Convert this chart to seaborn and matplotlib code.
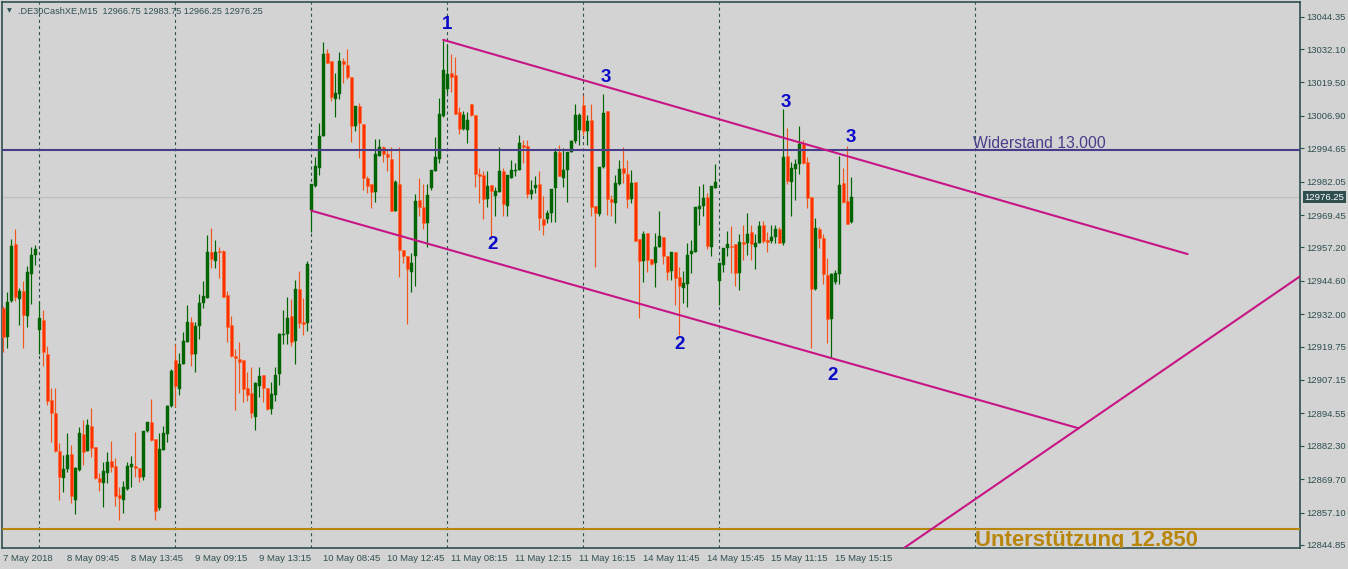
import numpy as np
import pandas as pd
import matplotlib
matplotlib.use("Agg")
import matplotlib.pyplot as plt
import matplotlib.transforms as mtransforms
import seaborn as sns

# ===========================================================
# DATA: .DE30CashXE M15 candles
# ===========================================================
opens = [
    12934.2, 12923.5, 12937.0, 12958.5, 12937.8, 12940.8, 12931.5, 12947.2, 12954.4, 12926.1,
    12929.8, 12917.0, 12899.6, 12894.8, 12880.4, 12870.3, 12873.6, 12879.2, 12861.8, 12873.2,
    12886.8, 12880.4, 12889.8, 12881.7, 12870.0, 12868.4, 12872.2, 12876.6, 12874.7, 12863.7,
    12861.8, 12865.9, 12874.4, 12874.8, 12874.1, 12870.7, 12887.7, 12891.1, 12884.9, 12858.9,
    12880.7, 12886.8, 12897.5, 12914.7, 12903.8, 12913.2, 12921.6, 12928.9, 12917.0, 12927.6,
    12936.1, 12938.0, 12955.4, 12952.2, 12955.9, 12955.9, 12939.3, 12927.9, 12916.2, 12915.0,
    12914.7, 12904.0, 12902.4, 12893.3, 12904.9, 12909.1, 12904.0, 12896.2, 12901.3, 12909.4,
    12924.2, 12924.5, 12931.3, 12922.0, 12941.5, 12929.2, 12928.8, 12971.2, 12980.6, 12987.1,
    12999.3, 13030.6, 13027.7, 13013.3, 13015.1, 13027.7, 13026.1, 13021.7, 13003.2, 13010.7,
    13003.7, 12983.3, 12981.2, 12978.3, 12991.9, 12995.3, 12992.5, 12990.5, 12970.8, 12981.2,
    12956.3, 12953.8, 12947.8, 12954.1, 12975.2, 12972.4, 12966.3, 12979.8, 12985.9, 12990.6,
    13007.0, 13017.1, 13023.0, 13022.4, 13008.5, 13001.8, 13001.6, 13011.4, 13007.3, 12985.0,
    12984.6, 12975.4, 12980.8, 12976.7, 12978.3, 12985.9, 12973.0, 12983.6, 12985.9, 12986.5,
    12995.9, 12995.6, 12977.3, 12979.6, 12981.2, 12968.0, 12968.0, 12970.1, 12979.8, 12993.4,
    12983.6, 12986.5, 12993.2, 12997.4, 13001.6, 13011.0, 13001.0, 13005.4, 12972.9, 12969.7,
    12987.4, 13008.8, 12975.5, 12973.9, 12981.1, 12987.1, 12985.0, 12975.5, 12982.1, 12960.3,
    12951.9, 12962.6, 12952.9, 12951.2, 12957.5, 12961.3, 12954.0, 12948.3, 12955.4, 12945.9,
    12942.0, 12943.3, 12954.6, 12955.3, 12971.6, 12972.9, 12976.2, 12957.5, 12979.8, 12944.6,
    12950.6, 12956.9, 12957.8, 12958.4, 12947.5, 12959.2, 12958.8, 12963.0, 12957.5, 12959.0,
    12965.5, 12960.1, 12959.7, 12961.3, 12964.2, 12958.8, 12991.8, 12982.1, 12986.7, 12988.7,
    12996.2, 12989.3, 12976.2, 12941.4, 12964.2, 12960.9, 12946.8, 12930.2, 12944.3, 12947.2,
    12981.5, 12974.8, 12966.75,
]
highs = [
    12935.0, 12940.5, 12960.4, 12964.2, 12941.8, 12944.6, 12950.2, 12957.3, 12958.2, 12936.5,
    12933.6, 12919.8, 12904.0, 12904.3, 12883.5, 12878.8, 12887.0, 12882.6, 12874.4, 12889.3,
    12892.1, 12892.4, 12896.5, 12881.7, 12871.9, 12876.1, 12879.8, 12884.1, 12877.6, 12866.9,
    12869.0, 12876.1, 12878.5, 12887.4, 12874.1, 12887.9, 12891.4, 12900.0, 12884.9, 12887.0,
    12889.9, 12897.7, 12911.3, 12920.6, 12917.2, 12925.4, 12935.5, 12931.1, 12929.2, 12939.7,
    12944.6, 12961.9, 12964.7, 12960.0, 12957.2, 12956.3, 12940.8, 12931.3, 12918.9, 12921.6,
    12914.7, 12910.3, 12912.2, 12906.3, 12912.2, 12909.1, 12904.0, 12906.3, 12912.2, 12924.8,
    12933.6, 12938.4, 12937.8, 12944.9, 12948.3, 12938.3, 12952.2, 12981.2, 12991.5, 13004.1,
    13034.7, 13032.2, 13027.7, 13023.0, 13030.9, 13028.9, 13032.2, 13021.7, 13010.7, 13011.7,
    13003.7, 12984.3, 12981.2, 12998.2, 12998.2, 12995.6, 12994.3, 12995.1, 12982.7, 12995.1,
    12956.3, 12953.8, 12955.0, 12977.3, 12983.6, 12981.1, 12981.1, 12986.5, 12999.1, 13013.6,
    13035.6, 13034.1, 13030.3, 13029.3, 13010.2, 13008.8, 13008.5, 13011.4, 13007.3, 12987.1,
    12985.9, 12985.9, 12980.8, 12980.2, 12995.3, 12987.1, 12984.4, 12990.3, 12989.0, 12999.7,
    12997.8, 12997.8, 12982.7, 12984.0, 12986.1, 12976.8, 12971.4, 12979.3, 12994.7, 12995.9,
    12994.7, 12993.2, 12997.8, 13011.4, 13007.9, 13014.6, 13007.3, 13011.4, 12972.9, 12987.4,
    13015.2, 13008.8, 12977.0, 12984.6, 12990.3, 12995.1, 12990.3, 12986.5, 12982.1, 12960.3,
    12963.5, 12962.6, 12952.9, 12962.6, 12971.0, 12961.3, 12954.0, 12955.4, 12955.4, 12950.0,
    12948.3, 12958.8, 12960.0, 12972.3, 12980.4, 12981.2, 12977.7, 12980.4, 12988.7, 12951.5,
    12956.9, 12963.6, 12965.3, 12958.4, 12962.3, 12965.7, 12970.4, 12965.7, 12962.3, 12967.3,
    12967.3, 12963.2, 12965.7, 12965.7, 12965.1, 13009.4, 13002.2, 12989.6, 12990.5, 13002.9,
    12997.6, 12991.5, 12976.2, 12968.2, 12965.1, 12962.3, 12953.1, 12947.5, 12948.7, 12991.8,
    12987.1, 12995.6, 12983.75,
]
lows = [
    12917.9, 12919.4, 12936.5, 12936.8, 12927.9, 12919.4, 12927.3, 12935.9, 12950.4, 12916.9,
    12912.6, 12897.7, 12883.9, 12880.1, 12861.8, 12865.0, 12872.3, 12860.8, 12856.6, 12872.9,
    12875.1, 12880.4, 12878.2, 12869.8, 12865.4, 12859.1, 12868.1, 12872.5, 12859.7, 12854.3,
    12856.8, 12865.6, 12866.9, 12870.7, 12868.8, 12869.4, 12887.4, 12884.1, 12854.3, 12858.1,
    12880.7, 12883.9, 12897.1, 12897.1, 12901.5, 12913.2, 12921.6, 12912.6, 12910.3, 12922.6,
    12934.2, 12938.0, 12949.6, 12949.3, 12945.8, 12938.4, 12921.6, 12916.0, 12895.8, 12902.1,
    12899.0, 12899.4, 12892.9, 12888.3, 12900.9, 12899.0, 12895.8, 12894.3, 12899.2, 12905.3,
    12920.8, 12920.8, 12919.8, 12913.2, 12926.7, 12924.2, 12925.8, 12963.0, 12980.0, 12984.6,
    12999.3, 13026.8, 13012.6, 13006.6, 13013.3, 13019.2, 13020.9, 12996.9, 13001.0, 12990.9,
    12978.9, 12977.7, 12972.0, 12974.5, 12991.9, 12989.4, 12985.9, 12970.8, 12970.8, 12946.2,
    12951.2, 12928.2, 12940.5, 12942.8, 12968.9, 12964.1, 12957.5, 12978.9, 12985.9, 12989.0,
    13006.6, 13015.5, 13015.8, 13007.5, 12999.9, 13001.6, 12996.6, 13006.9, 12980.2, 12973.9,
    12967.9, 12972.6, 12961.3, 12969.2, 12978.0, 12969.2, 12969.2, 12983.6, 12984.0, 12986.5,
    12989.0, 12975.8, 12975.5, 12977.7, 12963.8, 12961.9, 12966.3, 12966.7, 12966.7, 12984.0,
    12980.2, 12974.3, 12993.2, 12996.6, 12995.9, 12999.7, 12995.9, 12969.2, 12950.0, 12968.9,
    12987.1, 12969.5, 12969.2, 12966.6, 12980.8, 12981.5, 12972.0, 12973.9, 12959.8, 12930.7,
    12944.3, 12948.1, 12950.6, 12942.2, 12957.5, 12951.0, 12944.9, 12944.9, 12935.5, 12924.2,
    12936.1, 12934.9, 12947.5, 12955.3, 12965.7, 12968.9, 12956.7, 12954.1, 12979.6, 12935.3,
    12948.1, 12953.8, 12947.5, 12942.8, 12941.2, 12952.5, 12954.4, 12952.5, 12949.1, 12958.8,
    12958.8, 12955.4, 12958.8, 12958.8, 12958.8, 12958.2, 12981.2, 12969.1, 12975.1, 12984.9,
    12988.7, 12972.0, 12919.4, 12941.2, 12956.9, 12943.4, 12921.0, 12915.4, 12943.4, 12943.4,
    12973.9, 12966.1, 12966.25,
]
closes = [
    12923.5, 12936.5, 12957.8, 12938.4, 12940.8, 12931.7, 12948.1, 12954.4, 12956.6, 12930.5,
    12917.9, 12899.4, 12894.8, 12880.5, 12870.7, 12873.6, 12878.8, 12863.5, 12874.1, 12887.0,
    12880.1, 12890.2, 12881.6, 12870.0, 12868.8, 12872.8, 12876.1, 12874.4, 12863.5, 12862.5,
    12866.9, 12874.7, 12875.4, 12874.1, 12870.7, 12887.9, 12891.4, 12884.5, 12857.8, 12881.1,
    12887.3, 12897.5, 12910.6, 12904.7, 12913.2, 12921.9, 12928.9, 12917.0, 12927.6, 12936.1,
    12938.9, 12955.3, 12952.7, 12955.4, 12955.3, 12938.6, 12927.3, 12916.2, 12915.6, 12914.1,
    12903.8, 12901.3, 12894.6, 12906.2, 12908.8, 12904.3, 12896.2, 12901.9, 12909.1, 12924.5,
    12924.4, 12930.7, 12921.6, 12941.5, 12928.8, 12928.4, 12951.0, 12981.2, 12988.1, 12999.3,
    13030.3, 13027.0, 13014.2, 13015.7, 13027.7, 13026.4, 13021.7, 13003.2, 13010.7, 13004.1,
    12983.3, 12980.6, 12978.3, 12992.4, 12995.3, 12992.4, 12991.5, 12970.8, 12982.1, 12956.3,
    12953.8, 12949.0, 12951.2, 12974.8, 12972.4, 12966.3, 12977.0, 12986.5, 12991.5, 13007.6,
    13024.3, 13022.8, 13021.7, 13007.5, 13001.8, 13007.3, 13005.4, 13007.3, 12984.9, 12984.0,
    12975.5, 12980.6, 12978.7, 12978.6, 12985.9, 12973.5, 12984.4, 12986.5, 12986.5, 12996.6,
    12995.0, 12977.3, 12978.9, 12980.8, 12968.2, 12965.7, 12970.4, 12979.3, 12993.4, 12984.0,
    12986.5, 12993.2, 12997.4, 13007.3, 13007.3, 13001.3, 13005.0, 12972.4, 12970.4, 12987.4,
    13008.1, 12975.4, 12974.2, 12981.7, 12986.7, 12985.2, 12975.5, 12981.7, 12959.8, 12951.9,
    12962.3, 12952.5, 12951.0, 12957.2, 12961.7, 12953.8, 12948.1, 12955.4, 12945.6, 12942.8,
    12943.7, 12954.4, 12955.9, 12972.3, 12972.9, 12976.0, 12957.9, 12980.4, 12982.1, 12951.5,
    12956.9, 12958.5, 12957.3, 12947.5, 12959.2, 12958.4, 12962.2, 12958.4, 12959.0, 12965.3,
    12959.8, 12959.4, 12961.3, 12964.2, 12959.0, 12991.3, 12982.3, 12987.1, 12988.7, 12996.2,
    12989.0, 12976.0, 12941.4, 12964.7, 12960.7, 12947.1, 12930.2, 12947.1, 12947.5, 12980.8,
    12974.2, 12966.1, 12976.25,
]

x_tick_bars = [0, 16, 32, 48, 64, 80, 96, 112, 128, 144, 160, 176, 192, 208]
x_tick_labels = ['7 May 2018', '8 May 09:45', '8 May 13:45', '9 May 09:15', '9 May 13:15',
                 '10 May 08:45', '10 May 12:45', '11 May 08:15', '11 May 12:15', '11 May 16:15',
                 '14 May 11:45', '14 May 15:45', '15 May 11:15', '15 May 15:15']
y_ticks = [13044.35, 13032.10, 13019.50, 13006.90, 12994.65, 12982.05, 12969.45, 12957.20,
           12944.60, 12932.00, 12919.75, 12907.15, 12894.55, 12882.30, 12869.70, 12857.10,
           12844.85]
grid_bars = [9, 43, 77, 111, 145, 179, 243]

resistance = 12993.9
support = 12850.9
last_price = 12976.25

# hand drawn trend lines (bar index, price)
upper_x = [110, 296.1]
upper_y = [13035.6, 12954.7]
lower_x = [77, 268.9]
lower_y = [12971.1, 12888.9]
rising_x = [220, 330]
rising_y = [12838.3, 12952.3]

# Elliott style wave labels
wave_text = ['1', '3', '2', '3', '2', '3', '2']
wave_x = [110.9, 150.7, 122.4, 195.6, 169.2, 211.9, 207.4]
wave_y = [13041.3, 13021.2, 12958.5, 13011.8, 12920.7, 12998.6, 12909.0]

df = pd.DataFrame({'open': opens, 'high': highs, 'low': lows, 'close': closes})
df['bar'] = np.arange(len(df))
df['bull'] = df['close'] >= df['open']

# ===========================================================
# STYLE
# ===========================================================
BG = '#D3D3D3'
FG = '#2F4F4F'
sns.set_theme(style='white', rc={'axes.facecolor': BG, 'figure.facecolor': BG,
                                 'axes.edgecolor': FG, 'lines.scale_dashes': False})
plt.rcParams['font.family'] = ['Liberation Sans', 'DejaVu Sans']

fig = plt.figure(figsize=(13.48, 5.69), dpi=100)
ax = fig.add_axes([2 / 1348, 21 / 569, 1298 / 1348, 546 / 569])

# grid (vertical dashed only) and bid line
for g in grid_bars:
    ax.axvline(g, color=FG, lw=0.8, ls=(0, (2.2, 2.2)), zorder=1)
ax.axhline(last_price, color='#BDBDBD', lw=0.8, zorder=1)

# candles
bull = df[df['bull']]
bear = df[~df['bull']]
ax.vlines(bull['bar'], bull['low'], bull['high'], color='#006400', lw=0.85, zorder=2)
ax.vlines(bear['bar'], bear['low'], bear['high'], color='#F2561D', lw=0.85, zorder=2)
body_lo = np.minimum(df['open'], df['close'])
body_h = np.maximum((df['close'] - df['open']).abs(), 0.4)
ax.bar(df['bar'][df['bull']], body_h[df['bull']], bottom=body_lo[df['bull']],
       width=0.72, color='#006400', edgecolor='#006400', lw=0.3, zorder=3)
ax.bar(df['bar'][~df['bull']], body_h[~df['bull']], bottom=body_lo[~df['bull']],
       width=0.72, color='#FF3000', edgecolor='#FF6A2A', lw=0.4, zorder=3)

# support / resistance
ax.axhline(resistance, color='#483D8B', lw=1.5, zorder=4)
ax.axhline(support, color='#B8860B', lw=1.5, zorder=4)
ax.text(242.4, resistance + 1.0, 'Widerstand 13.000', color='#483D8B', fontsize=11.3,
        ha='left', va='baseline', zorder=5)
ax.text(243.0, 12844.6, 'Unterstützung 12.850', color='#B8860B', fontsize=15.8,
        fontweight='bold', ha='left', va='baseline', zorder=5, clip_on=True)

# channel / trend lines
for lx, ly in [(upper_x, upper_y), (lower_x, lower_y), (rising_x, rising_y)]:
    sns.lineplot(x=lx, y=ly, ax=ax, color='#C71585', lw=1.5, sort=False,
                 estimator=None, zorder=6)

for t, wx, wy in zip(wave_text, wave_x, wave_y):
    ax.text(wx, wy, t, color='#0A0AC8', fontsize=13.5, fontweight='bold',
            ha='center', va='center', zorder=7)

# axes
ax.set_xlim(-0.325, 324.2)
ax.set_ylim(12843.7, 13049.9)
ax.yaxis.tick_right()
ax.set_yticks(y_ticks)
ax.set_yticklabels([f'{v:.2f}' for v in y_ticks])
ax.set_xticks(x_tick_bars)
ax.set_xticklabels(x_tick_labels, ha='left')
ax.set_xticks(grid_bars, minor=True)
ax.tick_params(axis='both', which='major', colors=FG, labelsize=6.8, length=3,
               width=0.8, pad=1.5, direction='out')
ax.tick_params(axis='x', which='minor', colors=FG, length=3, width=0.8,
               direction='in')
for s in ax.spines.values():
    s.set_color(FG)
    s.set_linewidth(1.2)

# current price tag on the price scale
trans = mtransforms.blended_transform_factory(ax.transAxes, ax.transData)
ax.text(1.0035, last_price, f'{last_price:.2f}', transform=trans, color='white',
        fontsize=6.8, ha='left', va='center', clip_on=False, zorder=8,
        bbox=dict(facecolor=FG, edgecolor='none', pad=1.2))

# header
fig.text(7 / 1348, 1 - 11 / 569, '▼', fontsize=4.5, color=FG, va='center',
         family=['DejaVu Sans'])
fig.text(18 / 1348, 1 - 11 / 569, '.DE30CashXE,M15  12966.75 12983.75 12966.25 12976.25',
         fontsize=6.6, color=FG, va='center')

fig.savefig('out.png', dpi=100, facecolor=BG)
